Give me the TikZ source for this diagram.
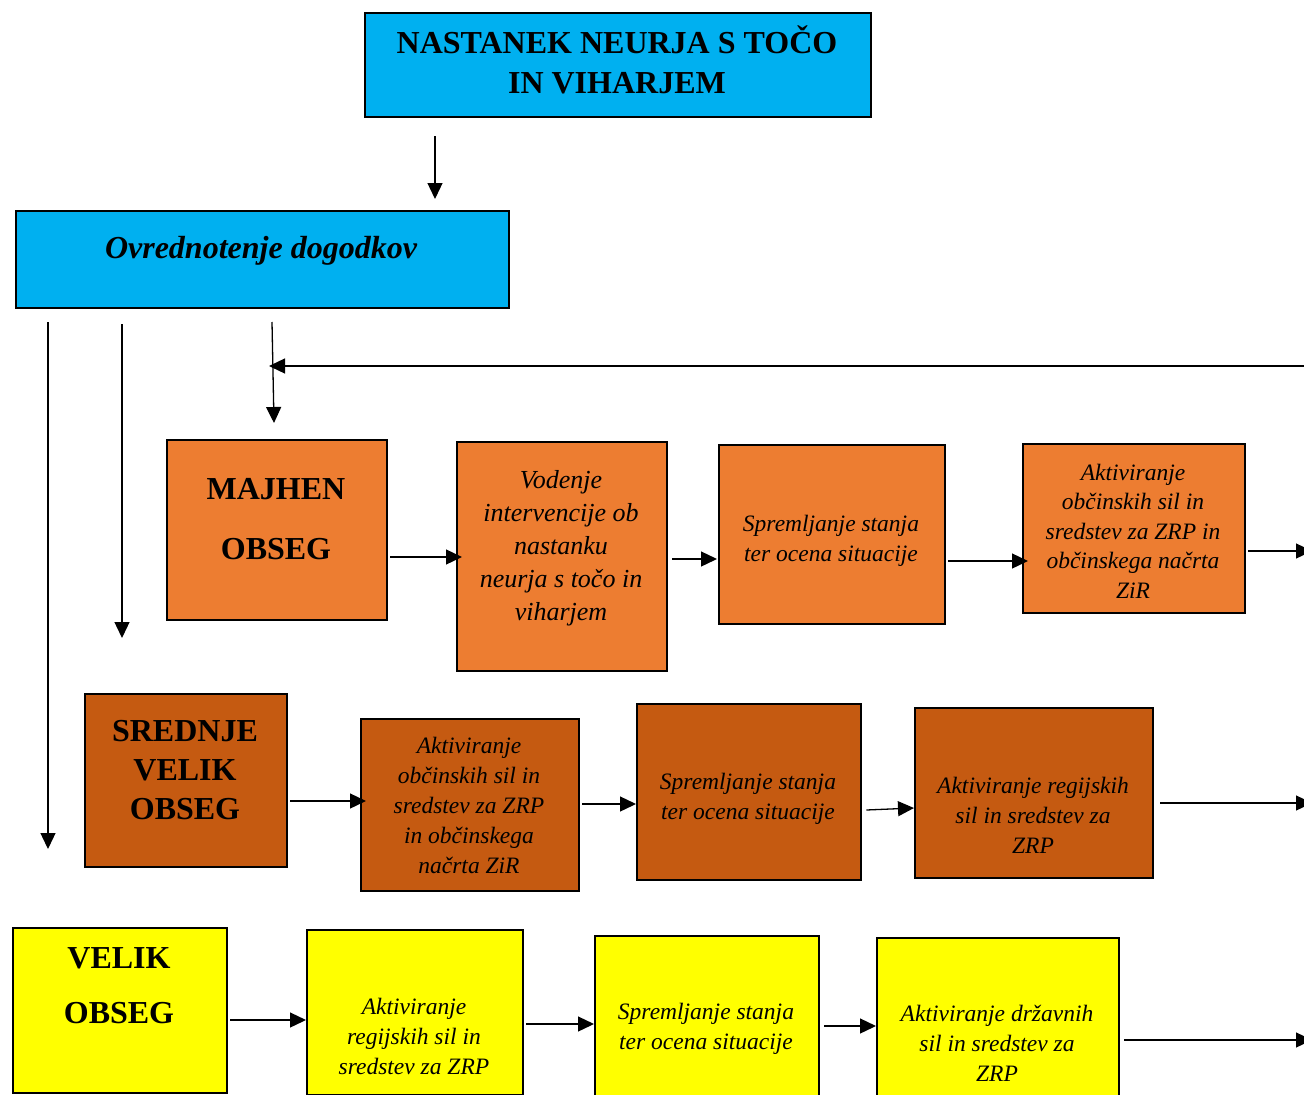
\documentclass[tikz,border=0pt]{standalone}
\usepackage{fontspec}
\setmainfont{Liberation Serif}
\usetikzlibrary{arrows.meta,calc}
\definecolor{cyanbox}{HTML}{00B0F0}
\definecolor{orangebox}{HTML}{ED7D31}
\definecolor{darkorangebox}{HTML}{C55A11}
\definecolor{yellowbox}{HTML}{FFFF00}
\begin{document}
\begin{tikzpicture}[x=1pt,y=-1pt,
  box/.style={draw=black, line width=2.4pt, inner sep=0pt, anchor=north west},
  arr/.style={line width=1.3pt, -{Triangle[length=16pt,width=15pt]}},
  tb/.style={align=center, inner sep=0pt, font=\bfseries\fontsize{32}{40}\selectfont},
  ti/.style={align=center, inner sep=0pt, font=\itshape\fontsize{23.5}{30}\selectfont},
]
\clip (0,0) rectangle (1304,1095);
\fill[white] (0,0) rectangle (1304,1095);

% boxes
\node[box, fill=cyanbox, minimum width=506pt, minimum height=104pt] (title) at (364,12) {};
\node[box, fill=cyanbox, minimum width=493pt, minimum height=97pt] (ovr) at (15,210) {};

\node[box, fill=orangebox, minimum width=220pt, minimum height=180pt] (maj) at (166,439) {};
\node[box, fill=orangebox, minimum width=210pt, minimum height=229pt] (vod) at (456,441) {};
\node[box, fill=orangebox, minimum width=226pt, minimum height=179pt] (spa) at (718,444) {};
\node[box, fill=orangebox, minimum width=222pt, minimum height=169pt] (aka) at (1022,443) {};

\node[box, fill=darkorangebox, minimum width=202pt, minimum height=173pt] (sre) at (84,693) {};
\node[box, fill=darkorangebox, minimum width=218pt, minimum height=172pt] (akb) at (360,718) {};
\node[box, fill=darkorangebox, minimum width=224pt, minimum height=176pt] (spb) at (636,703) {};
\node[box, fill=darkorangebox, minimum width=238pt, minimum height=170pt] (rgb) at (914,707) {};

\node[box, fill=yellowbox, minimum width=214pt, minimum height=165pt] (vel) at (12,927) {};
\node[box, fill=yellowbox, minimum width=216pt, minimum height=165pt] (rgc) at (306,929) {};
\node[box, fill=yellowbox, minimum width=224pt, minimum height=195pt] (spc) at (594,935) {};
\node[box, fill=yellowbox, minimum width=242pt, minimum height=213pt] (drc) at (876,937) {};

% texts
\node[tb] (titlet) at (617,60) {NASTANEK NEURJA S TOČO\\IN VIHARJEM};
\node[tb, font=\bfseries\itshape\fontsize{32}{40}\selectfont] (ovrt) at (261,251) {Ovrednotenje dogodkov};
\node[tb, font=\bfseries\fontsize{32}{60}\selectfont] (majt) at (276,519) {MAJHEN\\OBSEG};
\node[ti, font=\itshape\fontsize{26}{33}\selectfont] (vodt) at (561,548) {Vodenje\\intervencije ob\\nastanku\\neurja s točo in\\viharjem};
\node[ti] (spat) at (831,541) {Spremljanje stanja\\ter ocena situacije};
\node[ti, font=\itshape\fontsize{23.5}{29.5}\selectfont] (akat) at (1133,531) {Aktiviranje\\občinskih sil in\\sredstev za ZRP in\\občinskega načrta\\ZiR};

\node[tb, font=\bfseries\fontsize{32}{39}\selectfont] (sret) at (185,770) {SREDNJE\\VELIK\\OBSEG};
\node[ti] (akbt) at (469,805) {Aktiviranje\\občinskih sil in\\sredstev za ZRP\\in občinskega\\načrta ZiR};
\node[ti] (spbt) at (748,799) {Spremljanje stanja\\ter ocena situacije};
\node[ti] (rgbt) at (1033,815) {Aktiviranje regijskih\\sil in sredstev za\\ZRP};

\node[tb, font=\bfseries\fontsize{32}{55}\selectfont] (velt) at (119,986) {VELIK\\OBSEG};
\node[ti] (rgct) at (414,1036) {Aktiviranje\\regijskih sil in\\sredstev za ZRP};
\node[ti] (spct) at (706,1029) {Spremljanje stanja\\ter ocena situacije};
\node[ti] (drct) at (997,1043) {Aktiviranje državnih\\sil in sredstev za\\ZRP};

% free-end coordinates
\coordinate (t0) at (435,136);
\coordinate (v1s) at (48,322);
\coordinate (v1e) at (48,849);
\coordinate (v2s) at (122,324);
\coordinate (v2e) at (122,638);
\coordinate (v3s) at (272,322);
\coordinate (v3e) at (274,423);
\coordinate (fb) at (1310,366);
\coordinate (fbe) at (269,366);
\coordinate (oa) at (1312,551);
\coordinate (ob) at (1312,803);
\coordinate (oc) at (1312,1040);

% connectors
\draw[arr] (t0) -- (t0 |- 0,199);
\draw[arr] (v1s) -- (v1e);
\draw[arr] (v2s) -- (v2e);
\draw[arr] (v3s) -- (v3e);
\draw[arr] (fb) -- (fbe);

\draw[arr] ([xshift=2pt]maj.east |- 0,557) -- ([xshift=6pt]vod.west |- 0,557);
\draw[arr] ([xshift=4pt]vod.east |- 0,559) -- ([xshift=-1pt]spa.west |- 0,559);
\draw[arr] ([xshift=2pt]spa.east |- 0,561) -- ([xshift=6pt]aka.west |- 0,561);
\draw[arr] ([xshift=2pt]aka.east |- 0,551) -- (oa);

\draw[arr] ([xshift=2pt]sre.east |- 0,801) -- ([xshift=6pt]akb.west |- 0,801);
\draw[arr] ([xshift=2pt]akb.east |- 0,804) -- (spb.west |- 0,804);
\draw[arr] ([xshift=4pt]spb.east |- 0,810) -- (rgb.west |- 0,808);
\draw[arr] ([xshift=6pt]rgb.east |- 0,803) -- (ob);

\draw[arr] ([xshift=2pt]vel.east |- 0,1020) -- (rgc.west |- 0,1020);
\draw[arr] ([xshift=2pt]rgc.east |- 0,1024) -- (spc.west |- 0,1024);
\draw[arr] ([xshift=4pt]spc.east |- 0,1026) -- (drc.west |- 0,1026);
\draw[arr] ([xshift=4pt]drc.east |- 0,1040) -- (oc);
\end{tikzpicture}
\end{document}
